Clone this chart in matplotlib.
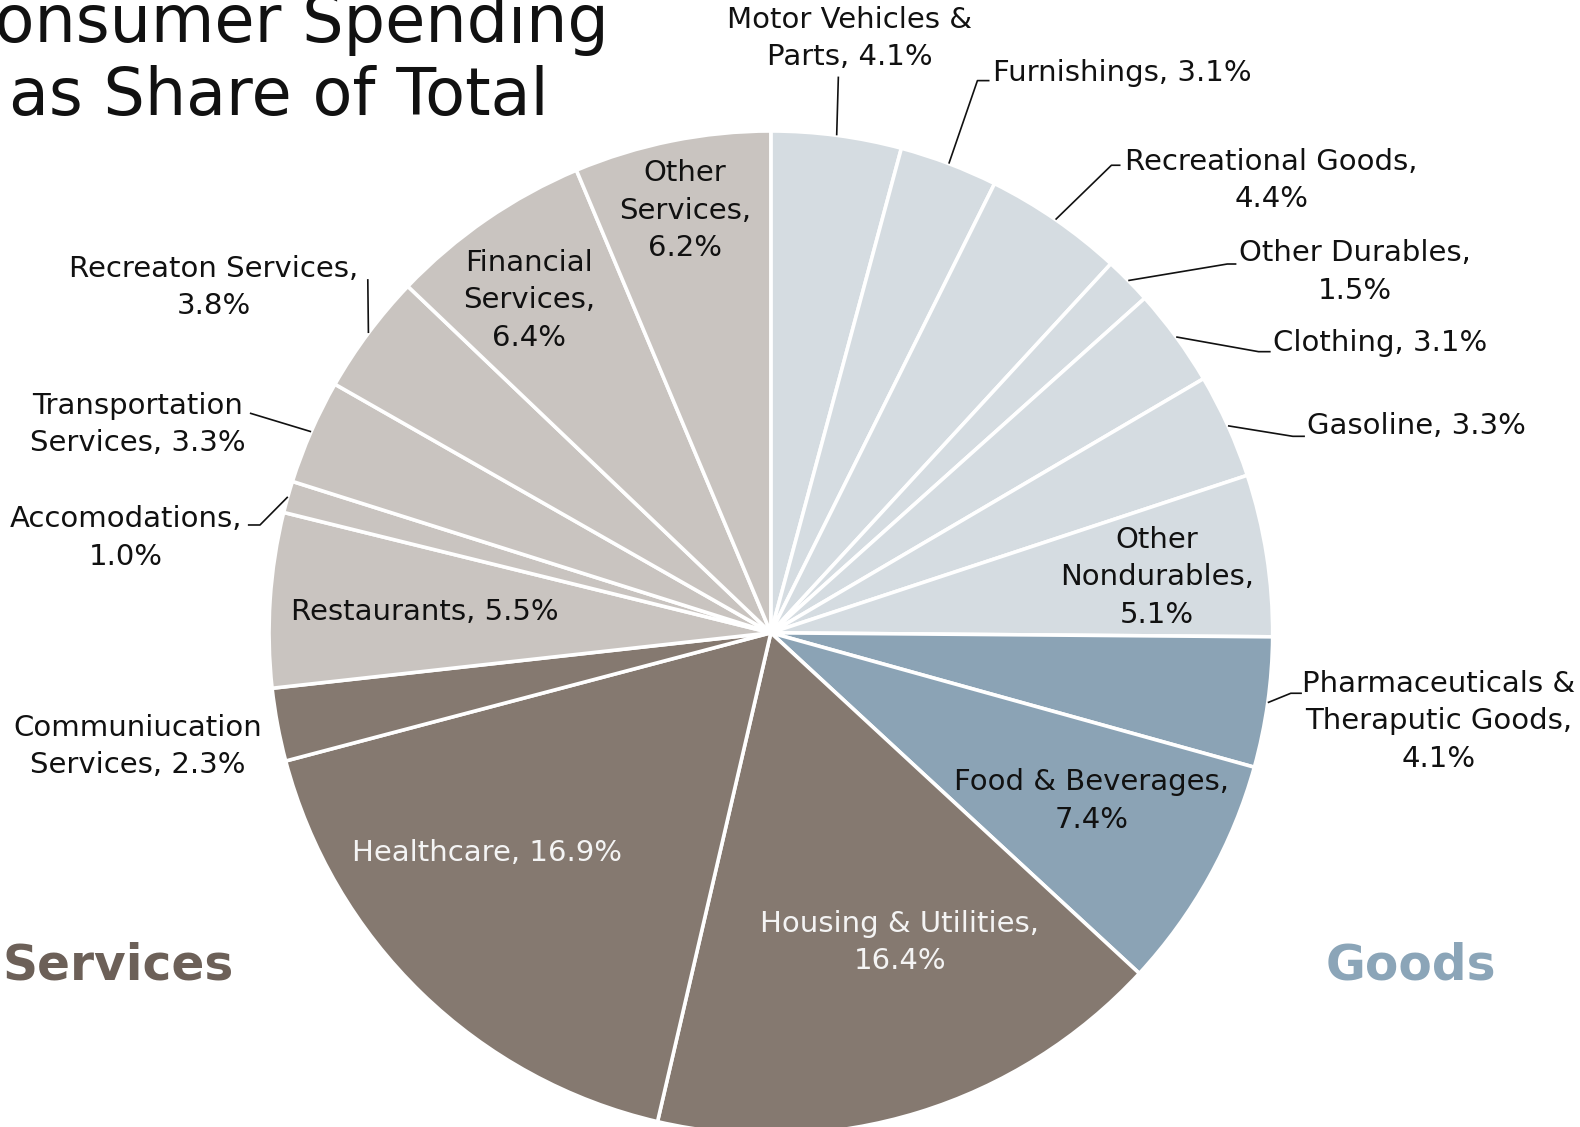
import matplotlib
matplotlib.use("Agg")
import matplotlib.pyplot as plt
import numpy as np

# ---- data -------------------------------------------------------------
categories = [
    "Motor Vehicles &\nParts", "Furnishings", "Recreational Goods",
    "Other Durables", "Clothing", "Gasoline", "Other\nNondurables",
    "Pharmaceuticals &\nTheraputic Goods", "Food & Beverages",
    "Housing & Utilities", "Healthcare", "Communiucation\nServices",
    "Restaurants", "Accomodations", "Transportation\nServices",
    "Recreaton Services", "Financial\nServices", "Other\nServices",
]
shares = [4.1, 3.1, 4.4, 1.5, 3.1, 3.3, 5.1,
          4.1, 7.4,
          16.4, 16.9, 2.3,
          5.5, 1.0, 3.3, 3.8, 6.4, 6.2]
groups = (["goods_light"] * 7 + ["goods_dark"] * 2 +
          ["serv_dark"] * 3 + ["serv_light"] * 6)

# ---- style ------------------------------------------------------------
palette = {
    "goods_light": "#d5dce1",
    "goods_dark": "#8ba3b5",
    "serv_dark": "#857970",
    "serv_light": "#c9c4c0",
}
FONT = "DejaVu Sans"
W, H = 1580, 1127
S = 1580 / 1568.0


def P(x, y):
    """Layout point (top-left pixel grid) -> data coordinates."""
    return x * S, H - y * S


# separator between category name and value in each label
seps = [", ", ", ", ",\n", ",\n", ", ", ", ", ",\n",
        ",\n", ",\n", ",\n", ", ", ", ",
        ", ", ",\n", ", ", ",\n", ",\n", ",\n"]

# label layout: (x, y, ha, text colour, leader waypoints or None)
layout = [
    (843, 38, "center", "#111111", [(832, 76)]),
    (985, 72, "left", "#111111", [(970, 80), (982, 80)]),
    (1262, 179, "center", "#111111", [(1103, 164), (1112, 164)]),
    (1345, 270, "center", "#111111", [(1218, 262), (1227, 262)]),
    (1263, 340, "left", "#111111", [(1249, 349), (1261, 349)]),
    (1297, 423, "left", "#111111", [(1283, 433), (1295, 433)]),
    (1148, 573, "center", "#111111", None),
    (1428, 716, "center", "#111111", [(1281, 688), (1292, 688)]),
    (1083, 795, "center", "#111111", None),
    (893, 935, "center", "#f4f4f4", None),
    (483, 847, "center", "#f4f4f4", None),
    (137, 741, "center", "#111111", None),
    (422, 607, "center", "#111111", None),
    (125, 534, "center", "#111111", [(258, 521), (246, 521)]),
    (137, 421, "center", "#111111", [(248, 410)]),
    (212, 285, "center", "#111111", [(365, 277)]),
    (525, 298, "center", "#111111", None),
    (680, 209, "center", "#111111", None),
]

fig = plt.figure(figsize=(W / 100, H / 100), dpi=100)
ax = fig.add_axes([0, 0, 1, 1])

cx, cy = P(765, 628)
R = 498 * S

wedges, _ = ax.pie(
    shares,
    colors=[palette[g] for g in groups],
    startangle=90,
    counterclock=False,
    center=(cx, cy),
    radius=R,
    wedgeprops=dict(edgecolor="white", linewidth=2.6),
)
ax.set_xlim(0, W)
ax.set_ylim(0, H)
ax.set_aspect("equal")
ax.axis("off")

for w, name, v, sep, (lx, ly, ha, col, lead) in zip(
        wedges, categories, shares, seps, layout):
    text = f"{name}{sep}{v:.1f}%"
    tx, ty = P(lx, ly)
    ax.text(tx, ty, text, ha=ha, va="center", multialignment="center",
            fontsize=21, color=col, family=FONT, linespacing=1.42)
    if lead:
        mid = np.deg2rad((w.theta1 + w.theta2) / 2.0)
        ex, ey = cx + R * np.cos(mid), cy + R * np.sin(mid)
        pts = [(ex, ey)] + [P(*p) for p in lead]
        xs, ys = zip(*pts)
        ax.plot(xs, ys, color="#111111", lw=1.2, solid_capstyle="butt")

# title
tx1, ty1 = P(277, 42)
tx2, ty2 = P(277, 114)
ax.text(tx1, ty1, "Consumer Spending", ha="center", va="baseline",
        fontsize=47, color="#111111", family=FONT)
ax.text(tx2, ty2, "as Share of Total", ha="center", va="baseline",
        fontsize=47, color="#111111", family=FONT)

# group captions
sx, sy = P(2, 958)
ax.text(sx, sy, "Services", ha="left", va="center", fontsize=35,
        fontweight="bold", color="#6c6058", family=FONT)
gx, gy = P(1400, 958)
ax.text(gx, gy, "Goods", ha="center", va="center", fontsize=35,
        fontweight="bold", color="#8ba5b8", family=FONT)

fig.savefig("out.png", dpi=100, facecolor="white")
